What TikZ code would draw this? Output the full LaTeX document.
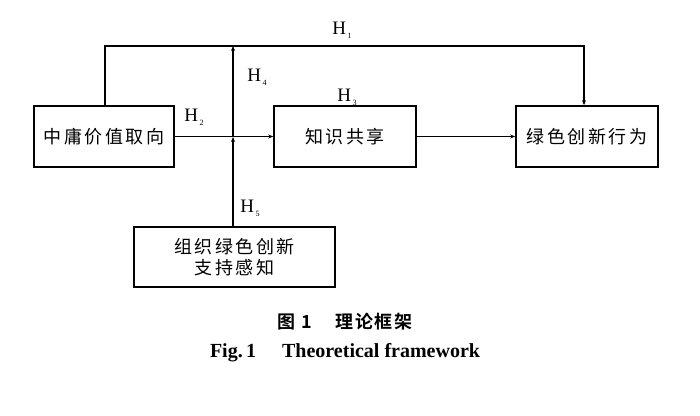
\documentclass[tikz,border=0pt]{standalone}
\usepackage{fontspec}
\setmainfont{Liberation Serif}
\newfontfamily\cjk[LetterSpace=14]{Noto Sans CJK SC}
\newfontfamily\cjkb[LetterSpace=10]{Noto Sans CJK SC Bold}
\usetikzlibrary{arrows.meta}
\newcommand{\hsub}[1]{H\raisebox{-4pt}{\fontsize{8}{8}\selectfont\,#1}}
\begin{document}
\begin{tikzpicture}[x=1pt,y=-1pt,
  box/.style={draw,line width=1.7pt,minimum height=61pt,inner sep=0pt,align=center,font=\cjk\fontsize{18}{21}\selectfont},
  conn/.style={line width=1.5pt},
  arr/.style={conn,-{Stealth[length=5pt,width=4pt]}},
  hlab/.style={font=\fontsize{19}{20}\selectfont,inner sep=0pt}]
\useasboundingbox (0,0) rectangle (700,415);
\node[box,minimum width=140pt] (b1) at (104,136.5) {中庸价值取向};
\node[box,minimum width=142pt] (b2) at (345,136.5) {知识共享};
\node[box,minimum width=142pt] (b3) at (587,136.5) {绿色创新行为};
\node[box,minimum width=201pt,minimum height=60pt] (b4) at (234.5,257) {组织绿色创新\\支持感知};
\coordinate (tl) at (105,46);
\coordinate (tr) at (584,46);
\coordinate (tm) at (233,46);
\coordinate (j) at (233,137);
\draw[arr] (b1.north -| tl) -- (tl) -- (tr) -- (b3.north -| tr);
\draw[arr] (b1.east) -- (b2.west);
\draw[arr] (b2.east) -- (b3.west);
\draw[arr] (b4.north -| j) -- (j);
\draw[arr] (j) -- (tm);
\node[hlab] (h1) at (342,30) {\hsub{1}};
\node[hlab] (h2) at (194,117) {\hsub{2}};
\node[hlab] (h3) at (347,97) {\hsub{3}};
\node[hlab] (h4) at (257,77) {\hsub{4}};
\node[hlab] (h5) at (250,208) {\hsub{5}};
\node[font=\cjkb\fontsize{18}{20}\selectfont] (c1) at (345,322) {图 1\hspace{1.3em}理论框架};
\node[font=\bfseries\fontsize{20}{22}\selectfont] (c2) at (345,353) {Fig.\,1\hspace{1.3em}Theoretical framework};
\end{tikzpicture}
\end{document}
